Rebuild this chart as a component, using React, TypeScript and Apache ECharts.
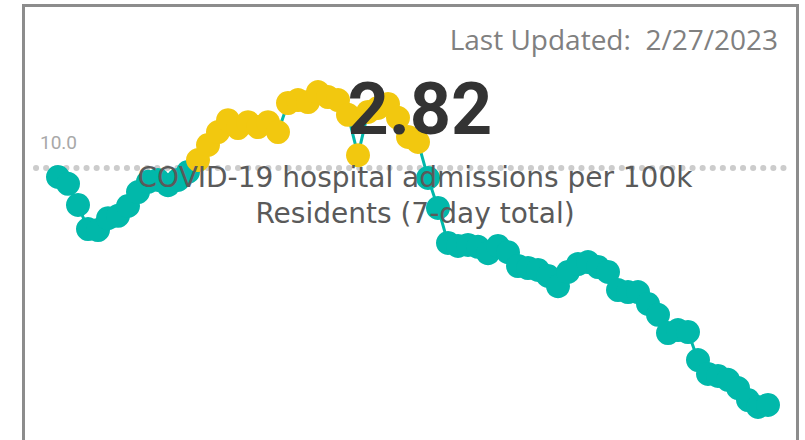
import React, { useEffect, useRef } from "react";
import * as echarts from "echarts";

// 7-day hospital admissions per 100k residents, one point per day (oldest -> latest)
const values: number[] = [
  9.73, 9.52, 8.88, 8.15, 8.12, 8.48, 8.55, 8.85, 9.27, 9.58,
  9.64, 9.48, 9.64, 9.88, 10.24, 10.7, 11.09, 11.45, 11.21, 11.39,
  11.24, 11.39, 11.09, 11.97, 12.06, 12.0, 12.3, 12.15, 12.06, 11.61,
  10.39, 11.7, 11.82, 11.94, 11.52, 10.94, 10.79, 9.7, 8.79, 7.73,
  7.64, 7.67, 7.61, 7.42, 7.64, 7.45, 7.03, 6.97, 6.91, 6.73,
  6.42, 6.85, 7.09, 7.15, 7.0, 6.85, 6.3, 6.24, 6.24, 5.88,
  5.55, 5.0, 5.09, 5.03, 4.18, 3.76, 3.7, 3.58, 3.33, 2.97,
  2.76, 2.82,
];
const days: number[] = values.map((_, i) => i);
const threshold = 10;
const thresholdLabel = "10.0";
const kpiValue = "2.82";
const kpiTitleLines = ["COVID-19 hospital admissions per 100k", "Residents (7-day total)"];
const updatedText = "Last Updated:  2/27/2023";

const TEAL = "#01B8AA";
const YELLOW = "#F2C80F";

export default function App() {
  const ref = useRef<HTMLDivElement>(null);
  useEffect(() => {
    if (!ref.current) return;
    const chart = echarts.init(ref.current, null, { renderer: "svg" });
    chart.setOption({
      animation: false,
      grid: { left: 36, right: 13, top: 69, bottom: 8 },
      xAxis: { type: "value", min: -2.2, max: 73.4, show: false },
      yAxis: { type: "value", min: 2, max: 13, show: false },
      series: [
        {
          type: "line",
          data: days.map((d, i) => [d, values[i]]),
          symbol: "circle",
          symbolSize: 24,
          showSymbol: true,
          clip: false,
          lineStyle: { color: TEAL, width: 3 },
          itemStyle: {
            color: (p: any) => (p.value[1] > threshold ? YELLOW : TEAL),
            opacity: 1,
          },
          z: 3,
          markLine: {
            silent: true,
            symbol: "none",
            z: 1,
            label: { show: false },
            lineStyle: { color: "#CCCCCC", width: 6, type: [0.1, 10], cap: "round" },
            data: [{ yAxis: threshold }],
          },
        },
      ],
      graphic: [
        {
          type: "rect",
          z: 100,
          shape: { x: 23.5, y: 5.5, width: 774, height: 460 },
          style: { fill: "none", stroke: "#8C8C8C", lineWidth: 3 },
        },
        {
          type: "text",
          z: 100,
          x: 778,
          y: 39,
          style: {
            text: updatedText,
            fontFamily: "Open Sans",
            fontSize: 28,
            fill: "#808080",
            align: "right",
            verticalAlign: "middle",
          },
        },
        {
          type: "text",
          z: 100,
          x: 40,
          y: 142,
          style: {
            text: thresholdLabel,
            fontFamily: "Roboto",
            fontSize: 19,
            fill: "#A8A8A8",
            align: "left",
            verticalAlign: "middle",
          },
        },
        {
          type: "text",
          z: 100,
          x: 420,
          y: 109,
          style: {
            text: kpiValue,
            fontFamily: "Roboto",
            fontWeight: "bold",
            fontSize: 72,
            fill: "#333333",
            align: "center",
            verticalAlign: "middle",
          },
        },
        {
          type: "text",
          z: 100,
          x: 415,
          y: 177,
          style: {
            text: kpiTitleLines[0],
            fontFamily: "DejaVu Sans",
            fontSize: 28,
            fill: "#5A5A5A",
            align: "center",
            verticalAlign: "middle",
          },
        },
        {
          type: "text",
          z: 100,
          x: 415,
          y: 213,
          style: {
            text: kpiTitleLines[1],
            fontFamily: "DejaVu Sans",
            fontSize: 28,
            fill: "#5A5A5A",
            align: "center",
            verticalAlign: "middle",
          },
        },
      ],
    });
    return () => chart.dispose();
  }, []);
  return <div ref={ref} style={{ width: 805, height: 440, position: "absolute", left: 0, top: 0 }} />;
}
